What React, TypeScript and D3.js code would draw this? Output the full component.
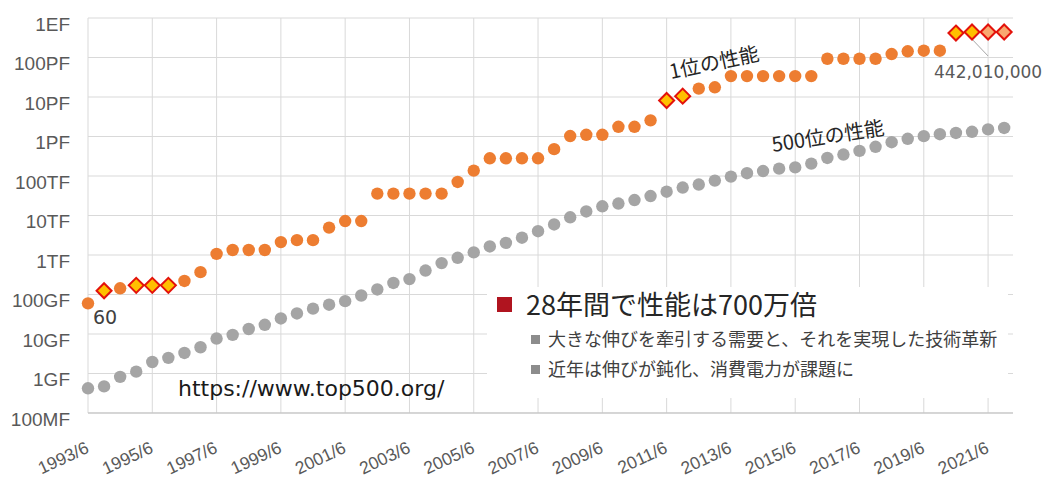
import React from "react";
import * as d3 from "d3";

const categories = [
  "1993/6","1993/11","1994/6","1994/11","1995/6","1995/11","1996/6","1996/11",
  "1997/6","1997/11","1998/6","1998/11","1999/6","1999/11","2000/6","2000/11",
  "2001/6","2001/11","2002/6","2002/11","2003/6","2003/11","2004/6","2004/11",
  "2005/6","2005/11","2006/6","2006/11","2007/6","2007/11","2008/6","2008/11",
  "2009/6","2009/11","2010/6","2010/11","2011/6","2011/11","2012/6","2012/11",
  "2013/6","2013/11","2014/6","2014/11","2015/6","2015/11","2016/6","2016/11",
  "2017/6","2017/11","2018/6","2018/11","2019/6","2019/11","2020/6","2020/11",
  "2021/6","2021/11",
];

// Performance in GFlops
const rank1 = [
  59.7, 124.2, 143.4, 170.4, 170.4, 170.4, 220.4, 368.2,
  1068, 1338, 1338, 1338, 2121, 2379, 2379, 4938,
  7226, 7226, 35860, 35860, 35860, 35860, 35860, 70720,
  136800, 280600, 280600, 280600, 280600, 478200, 1026000, 1105000,
  1105000, 1759000, 1759000, 2566000, 8162000, 10510000, 16324750, 17590000,
  33862700, 33862700, 33862700, 33862700, 33862700, 33862700, 93014600, 93014600,
  93014600, 93014600, 122300000, 143500000, 148600000, 148600000, 415530000, 442010000,
  442010000, 442010000,
];

const rank500 = [
  0.422, 0.472, 0.822, 1.114, 1.955, 2.489, 3.306, 4.62,
  7.67, 9.513, 13.39, 17.12, 24.73, 33.08, 43.82, 55.1,
  67.78, 94.3, 134.3, 195.8, 245.1, 403.4, 624, 850.6,
  1166, 1646, 2026, 2737, 4005, 5929, 9000, 12640,
  17090, 20050, 24670, 31120, 39960, 50940, 60820, 76500,
  96620, 117830, 133700, 153380, 164900, 206300, 286100, 349300,
  432200, 548300, 715600, 874800, 1022000, 1142000, 1228000, 1317000,
  1511000, 1646000,
];

// Japanese (Fujitsu) systems highlighted as diamonds
const highlightYellow = ["1993/11", "1994/11", "1995/6", "1995/11", "2011/6", "2011/11", "2020/6", "2020/11"];
const highlightPeach = ["2021/6", "2021/11"];

const xTickLabels = [
  "1993/6","1995/6","1997/6","1999/6","2001/6","2003/6","2005/6","2007/6",
  "2009/6","2011/6","2013/6","2015/6","2017/6","2019/6","2021/6",
];
const yTickValues = [1e9, 1e8, 1e7, 1e6, 1e5, 1e4, 1e3, 1e2, 1e1, 1, 0.1];
const yTickLabels = ["1EF","100PF","10PF","1PF","100TF","10TF","1TF","100GF","10GF","1GF","100MF"];

const firstLabel = "60";
const peakLabel = "442,010,000";
const peakLabelCategory = "2020/11";
const legendTitle = "28年間で性能は700万倍";
const legendBullets = ["大きな伸びを牽引する需要と、それを実現した技術革新", "近年は伸びが鈍化、消費電力が課題に"];
const url = "https://www.top500.org/";
const rank1Label = "1位の性能";
const rank500Label = "500位の性能";

const W = 1050, H = 480;
const L = 88, R = 1013, T = 18, B = 413;

export default function App() {
  const x = d3.scaleLinear().domain([0, 57.55]).range([L, R]);
  const y = d3.scaleLog().domain([0.1, 1e9]).range([B, T]);
  const idx = (c: string) => categories.indexOf(c);
  const jp = "'Noto Sans CJK JP', sans-serif";
  const lat = "'DejaVu Sans', sans-serif";
  const ar = "'Liberation Sans', Arial, sans-serif";
  const isDiamond = (c: string) => highlightYellow.includes(c) || highlightPeach.includes(c);
  const diamondPath = (cx: number, cy: number, r: number) =>
    `M${cx},${cy - r}L${cx + r},${cy}L${cx},${cy + r}L${cx - r},${cy}Z`;

  const pi = idx(peakLabelCategory);
  const px = x(pi), py = y(rank1[pi]);

  return (
    <svg width={W} height={H} style={{ position: "absolute", left: 0, top: 0, background: "#fff" }}>
      {yTickValues.map((v, i) => (
        <line key={"h" + i} x1={L} x2={R} y1={y(v)} y2={y(v)} stroke="#d9d9d9" strokeWidth={1} />
      ))}
      {xTickLabels.map((c) => (
        <line key={"v" + c} x1={x(idx(c))} x2={x(idx(c))} y1={T} y2={B} stroke="#d9d9d9" strokeWidth={1} />
      ))}
      <line x1={L} x2={R} y1={B} y2={B} stroke="#bfbfbf" strokeWidth={1} />

      {yTickValues.map((v, i) => (
        <text key={"yl" + i} x={70} y={y(v) + 12.5} textAnchor="end" fontFamily={ar} fontSize={19} fill="#595959">
          {yTickLabels[i]}
        </text>
      ))}
      {xTickLabels.map((c) => {
        const tx = x(idx(c)) + 2;
        const ty = 452;
        return (
          <text key={"xl" + c} x={tx} y={ty} textAnchor="end" fontFamily={ar} fontSize={17.5} fill="#595959"
            transform={`rotate(-25 ${tx} ${ty})`}>
            {c}
          </text>
        );
      })}

      <rect x={487} y={287} width={521} height={111} fill="#fff" />
      <rect x={497} y={297} width={15} height={15} fill="#b0141f" />
      <text x={526} y={315} fontFamily={jp} fontSize={27} fill="#262626">{legendTitle}</text>
      {legendBullets.map((t, i) => (
        <g key={"b" + i}>
          <rect x={531} y={335 + i * 30} width={9} height={9} fill="#8c8c8c" />
          <text x={548} y={346 + i * 30} fontFamily={jp} fontSize={18} fill="#404040">{t}</text>
        </g>
      ))}

      <text x={178} y={396} fontFamily={lat} fontSize={22} fill="#1a1a1a">{url}</text>

      {rank500.map((v, i) => (
        <circle key={"g" + i} cx={x(i)} cy={y(v)} r={6.2} fill="#a5a5a5" />
      ))}
      {rank1.map((v, i) =>
        isDiamond(categories[i]) ? null : (
          <circle key={"o" + i} cx={x(i)} cy={y(v)} r={6.2} fill="#ed7d31" />
        )
      )}
      <line x1={px - 3} y1={py + 4} x2={x(pi + 1)} y2={56} stroke="#a6a6a6" strokeWidth={1} />
      {rank1.map((v, i) => {
        const c = categories[i];
        if (!isDiamond(c)) return null;
        const fill = highlightPeach.includes(c) ? "#f9a870" : "#ffc000";
        return <path key={"d" + i} d={diamondPath(x(i), y(v), 7.5)} fill={fill} stroke="#e3120b" strokeWidth={2} />;
      })}

      <text x={93} y={324} fontFamily={lat} fontSize={19} fill="#404040">{firstLabel}</text>
      <text x={x(pi + 1)} y={78} textAnchor="middle" fontFamily={lat} fontSize={17} fill="#595959">{peakLabel}</text>

      <text x={671} y={79} fontFamily={jp} fontSize={20} fill="#262626" transform="rotate(-12 671 79)">{rank1Label}</text>
      <text x={773} y={152} fontFamily={jp} fontSize={20} fill="#262626" transform="rotate(-9 773 152)">{rank500Label}</text>
    </svg>
  );
}
